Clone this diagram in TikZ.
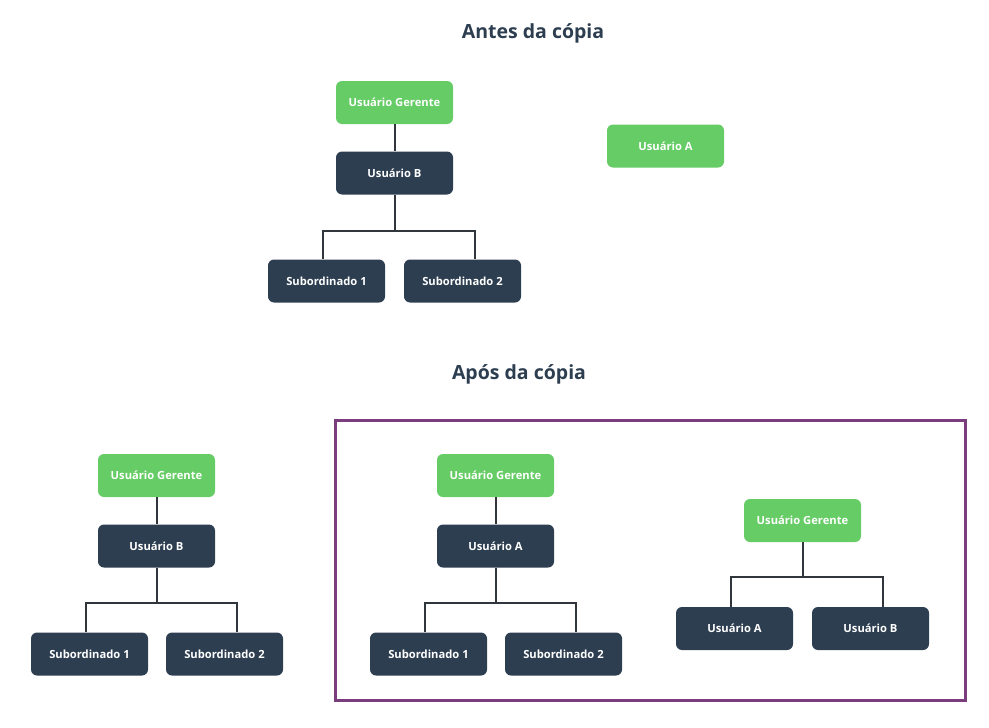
\documentclass[tikz,border=0pt]{standalone}
\usepackage{fontspec}
\setmainfont{Open Sans}
\usetikzlibrary{positioning,calc}
\definecolor{usergreen}{HTML}{66CC66}
\definecolor{userdark}{HTML}{2C3E50}
\definecolor{linegray}{HTML}{30363C}
\definecolor{copyframe}{HTML}{7A3E7E}

\begin{document}
\begin{tikzpicture}[x=1pt, y=-1pt,
			greenbox/.style={rectangle, rounded corners=6pt, fill=usergreen, text=white, font=\bfseries\fontsize{11.2}{13}\selectfont, minimum width=117pt, minimum height=43pt},
			darkbox/.style={rectangle, rounded corners=6pt, fill=userdark, text=white, font=\bfseries\fontsize{11.2}{13}\selectfont, minimum width=117pt, minimum height=43pt},
			title/.style={text=userdark, font=\bfseries\fontsize{19.5}{23}\selectfont},
			conn/.style={line width=2pt, color=linegray},
			]
			\useasboundingbox (0,0) rectangle (989,728);
			%Nodes
				% titles
				\node[title]		(before)		at (533,33)		{Antes da cópia};
				\node[title]		(after)			at (519,374)	{Após da cópia};
				% before the copy
				\node[greenbox]		(manager1)		at (394.5,102.5)	{Usuário Gerente};
				\node[darkbox]		(userB1)		at (394.5,173)		{Usuário B};
				\node[greenbox]		(userA1)		at (665.5,146)		{Usuário A};
				\node[darkbox]		(subone1)		at (326.5,281)		{Subordinado 1};
				\node[darkbox]		(subtwo1)		at (462.5,281)		{Subordinado 2};
				% after the copy, left
				\node[greenbox]		(manager2)		at (156.5,475.5)	{Usuário Gerente};
				\node[darkbox]		(userB2)		at (156.5,546)		{Usuário B};
				\node[darkbox]		(subone2)		at (89.5,654)		{Subordinado 1};
				\node[darkbox]		(subtwo2)		at (224.5,654)		{Subordinado 2};
				% after the copy, framed
				\node[greenbox]		(manager3)		at (495.5,475.5)	{Usuário Gerente};
				\node[darkbox]		(userA3)		at (495.5,546)		{Usuário A};
				\node[darkbox]		(subone3)		at (428.5,654)		{Subordinado 1};
				\node[darkbox]		(subtwo3)		at (563.5,654)		{Subordinado 2};
				\node[greenbox]		(manager4)		at (802.5,520.5)	{Usuário Gerente};
				\node[darkbox]		(userA4)		at (734.5,628.5)	{Usuário A};
				\node[darkbox]		(userB4)		at (870.5,628.5)	{Usuário B};

			%Lines
				% before the copy
				\draw[conn] (manager1) -- (userB1);
				\draw[conn] (userB1.south) -- ++(0,36) coordinate (split1);
				\draw[conn] (split1) -| ([xshift=-3.5pt]subone1.north);
				\draw[conn] (split1) -| ([xshift=12pt]subtwo1.north);
				% after the copy, left
				\draw[conn] (manager2) -- (userB2);
				\draw[conn] (userB2.south) -- ++(0,35) coordinate (split2);
				\draw[conn] (split2) -| ([xshift=-3.5pt]subone2.north);
				\draw[conn] (split2) -| ([xshift=12pt]subtwo2.north);
				% after the copy, framed
				\draw[conn] (manager3) -- (userA3);
				\draw[conn] (userA3.south) -- ++(0,35) coordinate (split3);
				\draw[conn] (split3) -| ([xshift=-3.5pt]subone3.north);
				\draw[conn] (split3) -| ([xshift=12pt]subtwo3.north);
				\draw[conn] (manager4.south) -- ++(0,35) coordinate (split4);
				\draw[conn] (split4) -| ([xshift=-3.5pt]userA4.north);
				\draw[conn] (split4) -| ([xshift=12pt]userB4.north);
				% frame
				\draw[line width=3pt, color=copyframe] (335,420) rectangle (965,700);
		\end{tikzpicture}
\end{document}
